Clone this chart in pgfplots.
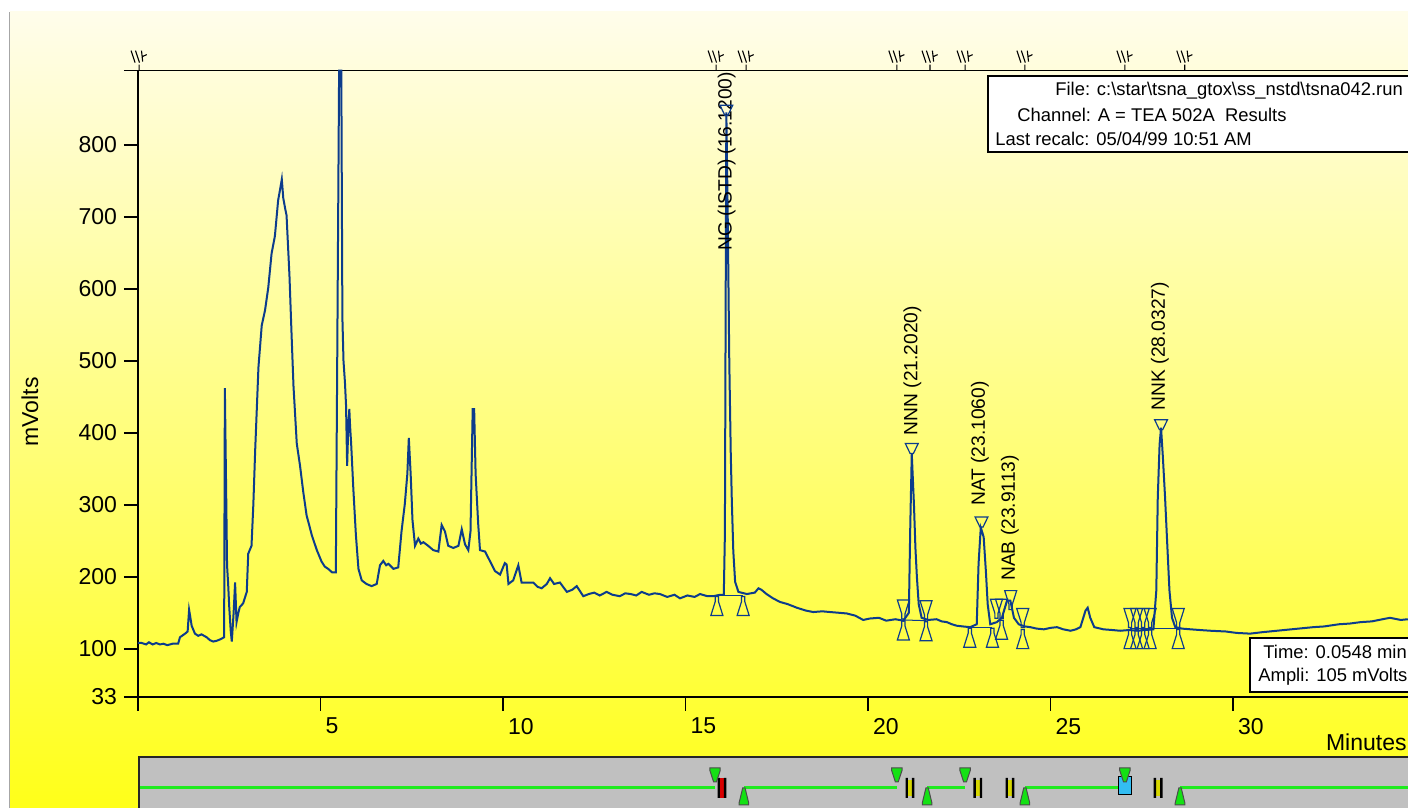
\documentclass[border=0pt]{standalone}
\usepackage{fontspec}
\setmainfont{Liberation Sans}
\usepackage{pgfplots}
\pgfplotsset{compat=1.18}

\definecolor{trace}{RGB}{12,60,140}
\definecolor{bgtop}{RGB}{255,253,235}
\definecolor{bgbot}{RGB}{255,255,25}
\definecolor{panelgray}{RGB}{192,192,192}
\definecolor{lgreen}{RGB}{30,235,30}
\definecolor{mgreen}{RGB}{20,225,20}
\definecolor{iiyel}{RGB}{215,215,0}

\newcommand{\tickfont}{\fontsize{11.5}{13}\selectfont}
\newcommand{\lblfont}{\fontsize{9.6}{11}\selectfont}
\newcommand{\infofont}{\fontsize{9.2}{11}\selectfont}

% apex marker (top bar at the coordinate)
\pgfdeclareplotmark{apex}{%
 \pgfpathmoveto{\pgfpoint{-3.2pt}{0pt}}%
 \pgfpathlineto{\pgfpoint{3.2pt}{0pt}}%
 \pgfpathlineto{\pgfpoint{0.8pt}{-5pt}}%
 \pgfpathlineto{\pgfpoint{-0.8pt}{-5pt}}%
 \pgfpathclose
 \pgfpathmoveto{\pgfpoint{0pt}{-5pt}}\pgfpathlineto{\pgfpoint{0pt}{-8pt}}%
 \pgfusepathqstroke}
% funnel above baseline
\pgfdeclareplotmark{hgdown}{%
 \pgfpathmoveto{\pgfpoint{-3pt}{10pt}}%
 \pgfpathlineto{\pgfpoint{3pt}{10pt}}%
 \pgfpathlineto{\pgfpoint{0.8pt}{3pt}}%
 \pgfpathlineto{\pgfpoint{0.8pt}{0.5pt}}%
 \pgfpathlineto{\pgfpoint{-0.8pt}{0.5pt}}%
 \pgfpathlineto{\pgfpoint{-0.8pt}{3pt}}%
 \pgfpathclose
 \pgfusepathqstroke}
% funnel below baseline
\pgfdeclareplotmark{hgup}{%
 \pgfpathmoveto{\pgfpoint{-3pt}{-10pt}}%
 \pgfpathlineto{\pgfpoint{3pt}{-10pt}}%
 \pgfpathlineto{\pgfpoint{0.8pt}{-3pt}}%
 \pgfpathlineto{\pgfpoint{0.8pt}{-0.5pt}}%
 \pgfpathlineto{\pgfpoint{-0.8pt}{-0.5pt}}%
 \pgfpathlineto{\pgfpoint{-0.8pt}{-3pt}}%
 \pgfpathclose
 \pgfusepathqstroke}
% hourglass
\pgfdeclareplotmark{hg}{%
 \pgfuseplotmark{hgdown}\pgfuseplotmark{hgup}}
% event marker on top axis
\pgfdeclareplotmark{evt}{%
 \pgfpathmoveto{\pgfpoint{0pt}{0pt}}\pgfpathlineto{\pgfpoint{0pt}{3pt}}%
 \pgfpathmoveto{\pgfpoint{-4pt}{10pt}}\pgfpathlineto{\pgfpoint{-2pt}{4pt}}%
 \pgfpathmoveto{\pgfpoint{-1.8pt}{10pt}}\pgfpathlineto{\pgfpoint{0.2pt}{4pt}}%
 \pgfpathmoveto{\pgfpoint{1.2pt}{10pt}}\pgfpathlineto{\pgfpoint{1.8pt}{4.5pt}}%
 \pgfpathmoveto{\pgfpoint{1.6pt}{7pt}}\pgfpathlineto{\pgfpoint{3.8pt}{8pt}}%
 \pgfusepathqstroke}
% green markers
\pgfdeclareplotmark{gdown}{%
 \pgfpathmoveto{\pgfpoint{-2.6pt}{3.5pt}}%
 \pgfpathlineto{\pgfpoint{2.6pt}{3.5pt}}%
 \pgfpathlineto{\pgfpoint{2.6pt}{2.3pt}}%
 \pgfpathlineto{\pgfpoint{0.7pt}{-3.5pt}}%
 \pgfpathlineto{\pgfpoint{-0.7pt}{-3.5pt}}%
 \pgfpathlineto{\pgfpoint{-2.6pt}{2.3pt}}%
 \pgfpathclose
 \pgfusepathqfillstroke}
\pgfdeclareplotmark{gup}{%
 \pgfpathmoveto{\pgfpoint{-0.6pt}{4.25pt}}%
 \pgfpathlineto{\pgfpoint{0.6pt}{4.25pt}}%
 \pgfpathlineto{\pgfpoint{2.4pt}{-3.2pt}}%
 \pgfpathlineto{\pgfpoint{2.4pt}{-4.25pt}}%
 \pgfpathlineto{\pgfpoint{-2.4pt}{-4.25pt}}%
 \pgfpathlineto{\pgfpoint{-2.4pt}{-3.2pt}}%
 \pgfpathclose
 \pgfusepathqfillstroke}
\pgfdeclareplotmark{IIred}{%
 \pgfsetfillcolor{red!85!black}%
 \pgfpathrectangle{\pgfpoint{-1pt}{-5pt}}{\pgfpoint{2pt}{10pt}}\pgfusepathqfill
 \pgfsetfillcolor{black}%
 \pgfpathrectangle{\pgfpoint{-2.2pt}{-5pt}}{\pgfpoint{1.2pt}{10pt}}%
 \pgfpathrectangle{\pgfpoint{1pt}{-5pt}}{\pgfpoint{1.2pt}{10pt}}\pgfusepathqfill}
\pgfdeclareplotmark{IIyel}{%
 \pgfsetfillcolor{iiyel}%
 \pgfpathrectangle{\pgfpoint{-1pt}{-4pt}}{\pgfpoint{2pt}{8pt}}\pgfusepathqfill
 \pgfsetfillcolor{black}%
 \pgfpathrectangle{\pgfpoint{-2.2pt}{-5pt}}{\pgfpoint{1.2pt}{10pt}}%
 \pgfpathrectangle{\pgfpoint{1pt}{-5pt}}{\pgfpoint{1.2pt}{10pt}}\pgfusepathqfill}

\begin{document}
\begin{tikzpicture}[x=1pt,y=1pt]
\useasboundingbox (0,0) rectangle (704,404);
\fill[white] (0,0) rectangle (704,404);
\shade[top color=bgtop, bottom color=bgbot] (5,0) rectangle (704,398);
\draw[gray!70, line width=0.6pt] (4.7,0) -- (4.7,398);

% bottom panel background
\fill[panelgray] (69,0) rectangle (704,25.5);
\draw[line width=1pt, black!85] (69.5,0) -- (69.5,25.5) -- (704,25.5);

\begin{axis}[
 at={(69pt,55.5pt)}, anchor=south west,
 scale only axis, width=640pt, height=313.2pt,
 xmin=0, xmax=35.07, ymin=33, ymax=903,
 axis line style={line width=0.8pt},
 tick style={line width=0.8pt, black},
 tick align=outside, major tick length=7pt,
 xtick pos=left, ytick pos=left,
 xtick={0,5,10,15,20,25,30}, xticklabels={{},5,10,15,20,25,30},
 ytick={33,100,200,300,400,500,600,700,800,903},
 yticklabels={33,100,200,300,400,500,600,700,800,{}},
 /pgf/number format/assume math mode=true,
 ticklabel style={font=\tickfont},
 xticklabel style={anchor=north west, xshift=-1pt},
 clip=false,
]
% baseline segments
\addplot[trace, line width=0.5pt] coordinates {(15.86,174) (16.58,174)};
\addplot[trace, line width=0.5pt] coordinates {(20.97,140) (21.59,139)};
\addplot[trace, line width=0.5pt] coordinates {(22.79,130) (23.41,130)};
\addplot[trace, line width=0.5pt] coordinates {(27.18,128) (28.50,128)};
% chromatogram
\addplot[trace, line width=1pt] coordinates {
(0.00,108) (0.10,108) (0.22,106) (0.30,109) (0.40,106) (0.50,108) (0.60,106) (0.70,107) (0.80,105) (0.95,107) (1.10,107) (1.15,116) (1.29,121) (1.36,124) (1.40,154) (1.43,145) (1.47,132) (1.56,121) (1.65,118) (1.74,120) (1.88,116) (1.97,112) (2.06,110) (2.15,111) (2.25,113) (2.36,116) (2.38,462) (2.40,380) (2.42,300) (2.44,216) (2.47,190) (2.50,158) (2.54,125) (2.57,110) (2.62,150) (2.66,192) (2.70,137) (2.75,150) (2.79,158) (2.88,163) (2.98,179) (3.02,232) (3.11,243) (3.16,300) (3.21,375) (3.30,491) (3.39,549) (3.48,570) (3.57,602) (3.66,649) (3.75,673) (3.84,723) (3.90,740) (3.94,752) (3.98,726) (4.03,712) (4.07,702) (4.15,618) (4.21,533) (4.26,465) (4.35,385) (4.44,354) (4.53,317) (4.62,285) (4.70,270) (4.76,258) (4.90,237) (5.03,221) (5.12,214) (5.21,211) (5.32,206) (5.42,206) (5.46,512) (5.51,903) (5.57,903) (5.60,560) (5.63,500) (5.67,470) (5.70,438) (5.73,354) (5.76,406) (5.79,433) (5.81,410) (5.84,385) (5.90,322) (5.97,258) (6.04,211) (6.13,195) (6.26,190) (6.40,187) (6.54,190) (6.63,216) (6.72,222) (6.80,216) (6.86,218) (7.00,211) (7.13,213) (7.22,263) (7.31,301) (7.38,343) (7.42,393) (7.47,343) (7.52,279) (7.59,243) (7.68,253) (7.75,246) (7.82,248) (7.95,243) (8.09,237) (8.23,235) (8.32,272) (8.41,263) (8.50,243) (8.64,240) (8.78,243) (8.87,266) (8.96,245) (9.05,237) (9.11,263) (9.17,433) (9.21,433) (9.25,343) (9.32,274) (9.37,237) (9.51,235) (9.64,222) (9.78,208) (9.92,203) (10.05,219) (10.10,217) (10.15,190) (10.28,195) (10.42,216) (10.51,192) (10.69,192) (10.83,192) (10.95,186) (11.06,184) (11.20,190) (11.29,198) (11.40,190) (11.56,192) (11.75,179) (11.90,182) (12.02,187) (12.20,173) (12.35,176) (12.50,178) (12.65,174) (12.84,179) (13.00,175) (13.20,173) (13.35,177) (13.50,176) (13.65,174) (13.80,179) (14.00,175) (14.15,177) (14.30,176) (14.50,172) (14.70,175) (14.85,170) (15.05,174) (15.25,172) (15.40,176) (15.60,173) (15.76,173) (15.95,175) (16.05,175) (16.08,260) (16.10,566) (16.12,845) (16.16,690) (16.20,500) (16.24,373) (16.27,305) (16.31,236) (16.36,193) (16.45,179) (16.68,176) (16.90,178) (17.00,184) (17.08,182) (17.22,176) (17.40,170) (17.59,165) (17.80,162) (18.05,157) (18.30,153) (18.50,151) (18.75,152) (18.96,151) (19.20,150) (19.42,149) (19.65,146) (19.87,140) (20.05,142) (20.30,143) (20.50,139) (20.75,141) (20.97,139) (21.12,150) (21.16,273) (21.20,371) (21.26,300) (21.30,240) (21.34,200) (21.39,162) (21.47,143) (21.65,140) (21.88,141) (22.02,138) (22.16,137) (22.30,134) (22.43,132) (22.60,131) (22.80,130) (22.98,134) (23.03,218) (23.09,268) (23.13,262) (23.17,255) (23.23,208) (23.28,162) (23.35,134) (23.53,137) (23.67,143) (23.81,167) (23.90,167) (24.00,143) (24.13,134) (24.30,131) (24.45,130) (24.62,128) (24.82,127) (25.00,129) (25.18,130) (25.35,127) (25.55,125) (25.70,127) (25.82,130) (25.96,153) (26.02,157) (26.09,143) (26.20,130) (26.45,127) (26.70,126) (26.91,125) (27.15,126) (27.37,125) (27.60,126) (27.82,127) (27.90,181) (27.94,310) (27.99,384) (28.03,407) (28.08,366) (28.14,310) (28.20,245) (28.26,181) (28.33,143) (28.42,130) (28.60,128) (28.84,127) (29.10,126) (29.39,125) (29.80,124) (30.10,122) (30.47,121) (30.80,123) (31.00,124) (31.40,126) (31.80,128) (32.20,130) (32.50,131) (32.90,134) (33.20,135) (33.50,137) (33.80,138) (34.10,141) (34.30,143) (34.60,140) (34.79,141)
};
% peak markers
\addplot[only marks, mark=apex, mark options={trace, line width=0.6pt}] coordinates {(16.12,855) (21.20,385) (23.11,283) (28.03,418)};
\addplot[only marks, mark=hg, mark options={trace, line width=0.6pt}] coordinates {(20.97,140) (21.59,139) (23.66,141) (24.24,128) (27.18,128) (27.36,128) (27.54,128) (27.73,128) (28.50,128)};
\addplot[only marks, mark=hgup, mark options={trace, line width=0.6pt}] coordinates {(15.86,174) (16.58,174) (22.79,130) (23.41,130)};
\addplot[only marks, mark=hgdown, mark options={trace, line width=0.6pt}] coordinates {(23.52,141) (23.91,153)};
% event markers on the top axis
\addplot[only marks, mark=evt, mark options={black, line width=0.55pt}] coordinates {(0.03,903) (15.84,903) (16.66,903) (20.79,903) (21.70,903) (22.66,903) (24.30,903) (27.04,903) (28.68,903)};
% peak labels
\node[rotate=90, anchor=west, inner sep=0pt, font=\lblfont] at (axis cs:16.13,653) {NG (ISTD) (16.1200)};
\node[rotate=90, anchor=west, inner sep=0pt, font=\lblfont] at (axis cs:21.22,396) {NNN (21.2020)};
\node[rotate=90, anchor=west, inner sep=0pt, font=\lblfont] at (axis cs:23.07,298) {NAT (23.1060)};
\node[rotate=90, anchor=west, inner sep=0pt, font=\lblfont] at (axis cs:23.89,194) {NAB (23.9113)};
\node[rotate=90, anchor=west, inner sep=0pt, font=\lblfont] at (axis cs:28.00,431) {NNK (28.0327)};
\end{axis}

% bottom event panel
\begin{axis}[
 at={(69pt,0pt)}, anchor=south west,
 scale only axis, width=640pt, height=25.5pt,
 xmin=0, xmax=35.07, ymin=0, ymax=51,
 hide axis, clip=false,
]
\addplot[draw=lgreen, line width=1.1pt, mark=none] coordinates {(0.05,20.5) (15.81,20.5)};
\addplot[draw=lgreen, line width=1.1pt, mark=none] coordinates {(16.60,20.5) (20.79,20.5)};
\addplot[draw=lgreen, line width=1.1pt, mark=none] coordinates {(21.62,20.5) (22.66,20.5)};
\addplot[draw=lgreen, line width=1.1pt, mark=none] coordinates {(24.30,20.5) (27.04,20.5)};
\addplot[draw=lgreen, line width=1.1pt, mark=none] coordinates {(28.55,20.5) (35.07,20.5)};
\addplot[fill=cyan!80!white, draw=black, line width=0.5pt, mark=none] coordinates {(26.86,13) (27.22,13) (27.22,31) (26.86,31)} -- cycle;
\addplot[only marks, mark=IIred] coordinates {(16.00,20)};
\addplot[only marks, mark=IIyel] coordinates {(21.15,20) (23.01,20) (23.89,20) (27.95,20)};
\addplot[only marks, mark=gdown, mark options={fill=mgreen, draw=black!70, line width=0.5pt}] coordinates {(15.81,33) (20.79,33) (22.66,33) (27.04,33)};
\addplot[only marks, mark=gup, mark options={fill=mgreen, draw=black!70, line width=0.5pt}] coordinates {(16.60,11.5) (21.62,11.5) (24.30,11.5) (28.55,11.5)};
\end{axis}

% axis titles
\node[rotate=90, font=\tickfont, inner sep=0pt] at (15,198) {mVolts};
\node[anchor=east, font=\tickfont, inner sep=0pt] at (703.5,33) {Minutes};

% info boxes
\draw[fill=white, line width=0.6pt] (494,328) rectangle (712,366);
\node[anchor=west, inner sep=0pt, font=\infofont] at (527.5,358.5) {File: c:\textbackslash star\textbackslash tsna\_gtox\textbackslash ss\_nstd\textbackslash tsna042.run};
\node[anchor=west, inner sep=0pt, font=\infofont] at (508.5,346.5) {Channel: A = TEA 502A\ \ Results};
\node[anchor=west, inner sep=0pt, font=\infofont] at (497.5,334.5) {Last recalc: 05/04/99 10:51 AM};

\draw[fill=white, line width=0.6pt] (625,58) rectangle (712,85);
\node[anchor=west, inner sep=0pt, font=\infofont] at (631.5,78) {Time:\hspace{3.5pt}0.0548 min};
\node[anchor=west, inner sep=0pt, font=\infofont] at (629,65.5) {Ampli: 105 mVolts};
\end{tikzpicture}
\end{document}
